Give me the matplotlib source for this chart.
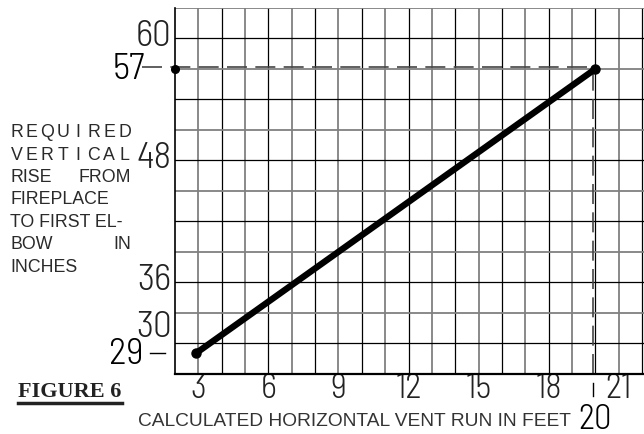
import numpy as np
import matplotlib.pyplot as plt
import matplotlib.transforms as mtransforms
from matplotlib import font_manager
from matplotlib.lines import Line2D

# chart data
run_ft = [2.9, 20]          # calculated horizontal vent run (feet)
rise_in = [29, 57]          # required vertical rise (inches)
x_ticks = [3, 6, 9, 12, 15, 18, 21]
y_ticks = [30, 36, 48, 60]
x_label = "CALCULATED HORIZONTAL VENT RUN IN FEET"
y_label_lines = ["REQUIRED", "VERTICAL", "RISE FROM", "FIREPLACE",
                 "TO FIRST EL-", "BOW IN", "INCHES"]
y_label_justify = [True, True, True, False, False, True, False]
fig_title = "FIGURE 6"

installed = {f.name for f in font_manager.fontManager.ttflist}
narrow = "DejaVu Sans"
for cand in ["Barlow Semi Condensed", "Roboto Condensed", "Barlow Condensed", "PT Sans Narrow"]:
    if cand in installed:
        narrow = cand
        break
sans = "Liberation Sans"
serif = "Liberation Serif"

W, H = 644, 435
fig = plt.figure(figsize=(W / 100, H / 100), dpi=100)
ax = fig.add_axes([175 / W, 1 - 374.5 / H, 469 / W, 365.5 / H])
ax.set_xlim(2, 22.08)
ax.set_ylim(27, 63)

# drafting grid, alternating dark / grey lines
for gx in np.arange(3, 23):
    even = gx % 2 == 0
    ax.axvline(gx, color="black" if even else "#808080", lw=0.9 if even else 1.3, zorder=1)
for gy in np.arange(30, 64, 3):
    even = gy % 6 == 0
    ax.axhline(gy, color="black" if even else "#808080", lw=0.9 if even else 1.3, zorder=1)

for s in ["top", "right"]:
    ax.spines[s].set_visible(False)
ax.spines["left"].set_linewidth(1.2)
ax.spines["bottom"].set_linewidth(1.6)

# guide lines to the end point
x0 = ax.get_xlim()[0]
ax.plot([x0 - 1.4, run_ft[1]], [rise_in[1] + 0.2, rise_in[1] + 0.2], color="#444444", lw=1.2,
        dashes=(12, 5), clip_on=False, zorder=2)
ax.plot([run_ft[1] - 0.12, run_ft[1] - 0.12], [ax.get_ylim()[0], rise_in[1]], color="#444444",
        lw=1.2, dashes=(12, 5), zorder=2)
ax.plot([x0], [rise_in[1]], "o", color="black", ms=5.5, clip_on=False, zorder=6)

# main line
ax.plot(run_ft, rise_in, color="black", lw=4.6, solid_capstyle="round",
        marker="o", ms=6.5, zorder=5)

blend_xa = mtransforms.blended_transform_factory(ax.transData, ax.transAxes)
blend_ay = mtransforms.blended_transform_factory(ax.transAxes, ax.transData)

# little tick under the axis at 20 and dash after 29
ax.plot([run_ft[1] - 0.12, run_ft[1] - 0.12], [-0.025, -0.062], transform=blend_xa,
        color="black", lw=1.0, clip_on=False)
ax.plot([-0.053, -0.021], [rise_in[0], rise_in[0]], transform=blend_ay, color="black",
        lw=1.0, clip_on=False)

# ticks
ax.set_xticks(x_ticks)
ax.set_xticklabels([str(t) for t in x_ticks], fontsize=25, family=narrow, weight=300,
                   color="#222222")
ax.tick_params(axis="x", length=0, pad=-1)
ax.set_yticks([])
for t in y_ticks:
    va = "bottom" if t == 30 else "center"
    ax.text(-0.007, t + (0 if t == 30 else 0.3), str(t), transform=blend_ay, ha="right", va=va,
            fontsize=27, family=narrow, weight=300, color="#222222")

# highlighted values
ax.text(-0.064, rise_in[1], str(rise_in[1]), transform=blend_ay, ha="right", va="center",
        fontsize=27, family=narrow, weight=300, color="black")
ax.text(-0.068, rise_in[0], str(rise_in[0]), transform=blend_ay, ha="right", va="center",
        fontsize=27, family=narrow, weight=300, color="black")
ax.text(run_ft[1], (374.5 - 429) / 365.5, str(run_ft[1]), transform=blend_xa, ha="center",
        va="baseline", fontsize=25, family=narrow, weight=300, color="black")

# x label
fig.text(354 / W, 1 - 426 / H, x_label, ha="center", va="baseline",
         fontsize=13.8, family=sans, color="#333333")

# justified y label block
lx0, lx1 = 10, 131
for i, (line, just) in enumerate(zip(y_label_lines, y_label_justify)):
    yb = 1 - (137 + 22.5 * i) / H
    kw = dict(va="baseline", fontsize=12.8, family=sans, color="#2a2a2a")
    if just and " " in line:
        a, b = line.split(" ")
        fig.text(lx0 / W, yb, a, ha="left", **kw)
        fig.text(lx1 / W, yb, b, ha="right", **kw)
    elif just:
        for cx, ch in zip(np.linspace(lx0 + 6.5, lx1 - 6.5, len(line)), line):
            fig.text(cx / W, yb, ch, ha="center", **kw)
    else:
        fig.text(lx0 / W, yb, line, ha="left", **kw)

# figure caption
fig.text(18 / W, 1 - 397 / H, fig_title, ha="left", va="baseline", fontsize=16,
         family=serif, weight="bold", color="#222222")
fig.add_artist(Line2D([18 / W, 122 / W], [1 - 404 / H, 1 - 404 / H], transform=fig.transFigure,
                      color="#222222", lw=2.5))

fig.savefig("out.png", dpi=100)
